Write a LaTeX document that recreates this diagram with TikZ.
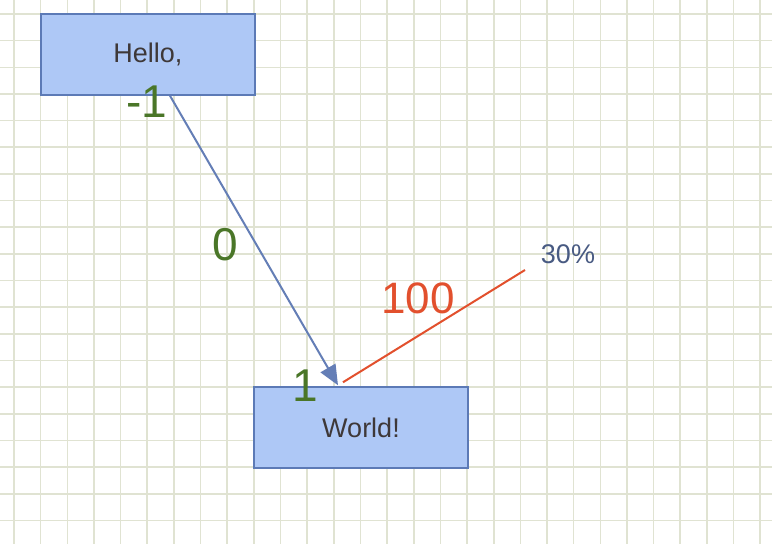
\documentclass[tikz,border=0pt]{standalone}
\usepackage{fontspec}
\setmainfont{Liberation Sans}
\usetikzlibrary{arrows.meta}
\definecolor{gridc}{RGB}{224,227,210}
\definecolor{boxfill}{RGB}{174,200,246}
\definecolor{boxdraw}{RGB}{92,122,182}
\definecolor{arrowc}{RGB}{100,126,182}
\definecolor{redc}{RGB}{226,80,45}
\definecolor{greenc}{RGB}{74,118,40}
\definecolor{pctc}{RGB}{72,90,130}
\definecolor{txtc}{RGB}{62,56,56}
\tikzset{
  gridline/.style={draw=gridc, line width=1.6pt},
  boxnode/.style={draw=boxdraw, fill=boxfill, line width=1.5pt, minimum width=214pt, minimum height=81pt, inner sep=0pt, font=\fontsize{27}{32}\selectfont, text=txtc},
  greenlbl/.style={text=greenc, font=\fontsize{46}{50}\selectfont, inner sep=0pt},
  redlbl/.style={text=redc, font=\fontsize{44}{48}\selectfont, inner sep=0pt},
  pctlbl/.style={text=pctc, font=\fontsize{27}{32}\selectfont, inner sep=0pt},
  linkarrow/.style={draw=arrowc, line width=2pt, -{Triangle[length=20pt,width=17pt]}},
  redline/.style={draw=redc, line width=2pt}
}
\begin{document}
\begin{tikzpicture}[x=1pt,y=-1pt]
\useasboundingbox (0,0) rectangle (772,544);
\fill[white] (0,0) rectangle (772,544);
\foreach \i in {0,...,28} \draw[gridline] ({14+26.65*\i},0) -- ({14+26.65*\i},544);
\foreach \j in {0,...,20} \draw[gridline] (0,{14+26.65*\j}) -- (772,{14+26.65*\j});

\node[boxnode] (hello) at (148,54.5) {Hello,};
\node[boxnode] (world) at (361,427.5) {World!};

\coordinate (pct) at (525,270);
\draw[linkarrow] ([xshift=22pt]hello.south) -- ([xshift=-23pt,yshift=1pt]world.north);
\draw[redline] ([xshift=-18pt,yshift=4pt]world.north) -- (pct);

\node[greenlbl] (lm1) at (147,102) {-1};
\node[greenlbl] (l0) at (225.5,245) {0};
\node[greenlbl] (l1) at (305,386) {1};
\node[redlbl] (l100) at (418,298) {100};
\node[pctlbl] (l30) at (568,254) {30\%};
\end{tikzpicture}
\end{document}
